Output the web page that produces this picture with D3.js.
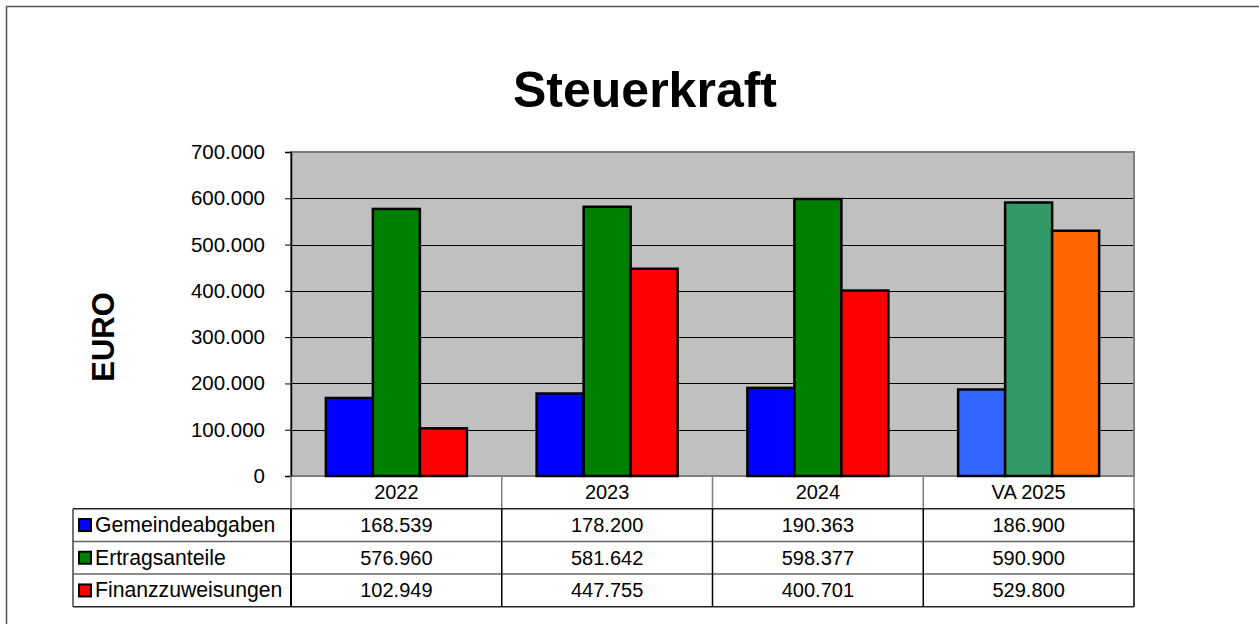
<!DOCTYPE html>
<html>
<head>
<meta charset="utf-8">
<script src="https://d3js.org/d3.v7.min.js"></script>
<style>
  body { margin: 0; background: #fff; }
  text { font-family: Arial, "Liberation Sans", sans-serif; fill: #000; }
</style>
</head>
<body>
<div id="chart"></div>
<script>
// Data
let years = ["2022", "2023", "2024", "VA 2025"];
let seriesNames = ["Gemeindeabgaben", "Ertragsanteile", "Finanzzuweisungen"];
let gemeindeabgaben = [168539, 178200, 190363, 186900];
let ertragsanteile = [576960, 581642, 598377, 590900];
let finanzzuweisungen = [102949, 447755, 400701, 529800];
let yTicks = [0, 100000, 200000, 300000, 400000, 500000, 600000, 700000];

let seriesColors = ["#0000ff", "#008000", "#ff0000"];
let budgetColors = ["#3366ff", "#339966", "#ff6600"];

let seriesValues = [gemeindeabgaben, ertragsanteile, finanzzuweisungen];

// German number format: 168.539
let fmt = d3.formatLocale({ decimal: ",", thousands: ".", grouping: [3], currency: ["", " €"] }).format(",d");

let svgWidth = 1259;
let svgHeight = 624;

let plot = { left: 291, right: 1134, top: 152, bottom: 476 };
let rowH = 32.7;
let tableLeft = 73;

let svg = d3.select("#chart").append("svg")
  .attr("width", svgWidth)
  .attr("height", svgHeight);

// outer frame
svg.append("rect")
  .attr("x", 6.5).attr("y", 6.5)
  .attr("width", 1262).attr("height", 640)
  .attr("fill", "none")
  .attr("stroke", "#555")
  .attr("stroke-width", 1.5);

// Title
svg.append("text")
  .attr("x", 645).attr("y", 107)
  .attr("text-anchor", "middle")
  .attr("font-size", 50)
  .attr("font-weight", "bold")
  .text("Steuerkraft");

// Y axis title
svg.append("text")
  .attr("transform", "translate(114, 337) rotate(-90)")
  .attr("text-anchor", "middle")
  .attr("font-size", 31)
  .attr("font-weight", "bold")
  .text("EURO");

// Scales
let x0 = d3.scaleBand().domain(years).range([plot.left, plot.right]);
let x1 = d3.scaleBand().domain(seriesNames).range([0, x0.bandwidth()]).paddingOuter(0.742);
let y = d3.scaleLinear().domain([0, 700000]).range([plot.bottom, plot.top]);

// Plot background
svg.append("rect")
  .attr("x", plot.left).attr("y", plot.top)
  .attr("width", plot.right - plot.left).attr("height", plot.bottom - plot.top)
  .attr("fill", "#c0c0c0");

// Gridlines
svg.append("g").selectAll("line")
  .data(yTicks.slice(1))
  .enter().append("line")
  .attr("x1", plot.left).attr("x2", plot.right)
  .attr("y1", d => Math.round(y(d)) + 0.5)
  .attr("y2", d => Math.round(y(d)) + 0.5)
  .attr("stroke", "#000")
  .attr("stroke-width", 1);

// plot border
svg.append("rect")
  .attr("x", plot.left).attr("y", plot.top)
  .attr("width", plot.right - plot.left).attr("height", plot.bottom - plot.top)
  .attr("fill", "none")
  .attr("stroke", "#808080")
  .attr("stroke-width", 2);

// Bars
let groups = svg.append("g").selectAll("g")
  .data(years)
  .enter().append("g")
  .attr("transform", d => `translate(${x0(d)},0)`);

groups.selectAll("rect")
  .data((yr, i) => seriesNames.map((s, j) => ({ s: s, j: j, v: seriesValues[j][i], budget: yr.startsWith("VA") })))
  .enter().append("rect")
  .attr("x", d => x1(d.s))
  .attr("y", d => y(d.v))
  .attr("width", x1.bandwidth())
  .attr("height", d => y(0) - y(d.v))
  .attr("fill", d => d.budget ? budgetColors[d.j] : seriesColors[d.j])
  .attr("stroke", "#000")
  .attr("stroke-width", 2.5);

// Y axis
let leftAxis = d3.axisLeft(y)
  .tickValues(yTicks)
  .tickSize(6)
  .tickPadding(20)
  .tickFormat(d => fmt(d));

let yAxis = svg.append("g")
  .attr("transform", `translate(${plot.left},0)`)
  .call(leftAxis);
yAxis.select(".domain").attr("stroke", "#000").attr("stroke-width", 1.5);
yAxis.selectAll(".tick line").attr("stroke", "#000");
yAxis.selectAll(".tick text")
  .attr("font-size", 20.5)
  .attr("font-family", "Arial, 'Liberation Sans', sans-serif")
  .attr("fill", "#000");

// Data table
let table = svg.append("g");

// header row verticals (gray)
table.selectAll(".hdrline")
  .data(years.concat(["end"]))
  .enter().append("line")
  .attr("x1", (d, i) => i < years.length ? x0(d) : plot.right)
  .attr("x2", (d, i) => i < years.length ? x0(d) : plot.right)
  .attr("y1", plot.bottom).attr("y2", plot.bottom + rowH)
  .attr("stroke", "#808080").attr("stroke-width", 1.5);

table.selectAll(".hdr")
  .data(years)
  .enter().append("text")
  .attr("x", d => x0(d) + x0.bandwidth() / 2)
  .attr("y", plot.bottom + rowH / 2 + 7)
  .attr("text-anchor", "middle")
  .attr("font-size", 20)
  .text(d => d);

let bodyTop = plot.bottom + rowH;

// horizontal lines
table.selectAll(".hline")
  .data(d3.range(seriesNames.length + 1))
  .enter().append("line")
  .attr("x1", tableLeft).attr("x2", plot.right)
  .attr("y1", i => bodyTop + i * rowH).attr("y2", i => bodyTop + i * rowH)
  .attr("stroke", (i) => i === 0 || i === seriesNames.length ? "#222" : "#666")
  .attr("stroke-width", 1.5);

// vertical lines in body
let vx = [tableLeft, plot.left].concat(years.slice(1).map(d => x0(d))).concat([plot.right]);
table.selectAll(".vline")
  .data(vx)
  .enter().append("line")
  .attr("x1", d => d).attr("x2", d => d)
  .attr("y1", bodyTop).attr("y2", bodyTop + seriesNames.length * rowH)
  .attr("stroke", (d, i) => i === 0 ? "#444" : "#000")
  .attr("stroke-width", (d, i) => i === 1 ? 2 : 1.5);

// row labels with legend keys
let rows = table.selectAll(".row")
  .data(seriesNames)
  .enter().append("g")
  .attr("transform", (d, i) => `translate(0,${bodyTop + i * rowH})`);

rows.append("rect")
  .attr("x", 79).attr("y", rowH / 2 - 6)
  .attr("width", 12).attr("height", 12)
  .attr("fill", (d, i) => seriesColors[i])
  .attr("stroke", "#000").attr("stroke-width", 2);

rows.append("text")
  .attr("x", 95).attr("y", rowH / 2 + 7)
  .attr("font-size", 21.2)
  .text(d => d);

rows.selectAll(".val")
  .data((d, i) => seriesValues[i].map((v, k) => ({ v: v, yr: years[k] })))
  .enter().append("text")
  .attr("x", d => x0(d.yr) + x0.bandwidth() / 2)
  .attr("y", rowH / 2 + 7)
  .attr("text-anchor", "middle")
  .attr("font-size", 20)
  .text(d => fmt(d.v));
</script>
</body>
</html>
